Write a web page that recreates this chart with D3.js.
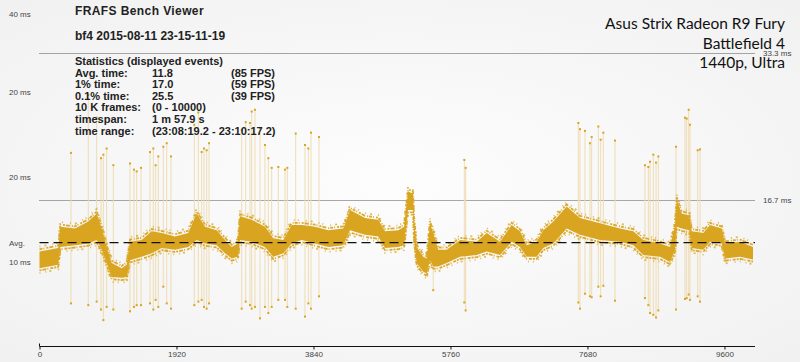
<!DOCTYPE html>
<html>
<head>
<meta charset="utf-8">
<script src="https://cdn.jsdelivr.net/npm/d3@7"></script>
<style>
  body { margin: 0; background: #f7f7f7; }
  svg { display: block; }
  .ylab, .xlab, .ref { font-family: "Liberation Sans", Arial, sans-serif; font-size: 8px; fill: #444; }
  .head { font-family: "Liberation Sans", Arial, sans-serif; font-size: 11px; font-weight: bold; fill: #222; }
  .title { font-size: 12px; }
  .gpu { font-family: Lato, "Open Sans", sans-serif; font-size: 15.5px; fill: #111; }
</style>
</head>
<body>
<svg width="800" height="362"></svg>
<script>
const w = 800, h = 362;

// band of frame times (upper / lower edge of the dense cloud), ms
const bandFrames = [0,263,292,498,684,802,872,942,1012,1152,1222,1268,1432,1573,1713,1899,2085,2203,2320,2484,
  2600,2694,2778,2810,2974,3160,3277,3417,3535,3675,3861,4048,4258,4352,4562,4748,4842,5029,5109,5165,
  5235,5250,5287,5379,5427,5473,5519,5589,5707,5894,6128,6268,6454,6618,6734,6828,6968,7061,7201,7389,
  7575,7856,8136,8322,8463,8697,8837,8907,8931,9001,9107,9141,9303,9397,9561,9608,9818,10000];
const bandHi = [10.8,11.2,13.6,13.4,14.2,15.1,13.4,11.3,9.5,8.9,9.3,11.9,12.1,13.1,12.9,12.5,12.9,15.1,13.6,13.2,
  12.1,11.3,11.7,14.8,14.4,13.6,12.3,12.1,13.8,13.8,13.6,13.2,13.4,15.5,14.6,14.4,13.1,13.2,13.6,17.6,
  17.4,14.4,11.3,10.2,10.0,14.0,12.9,11.0,11.0,12.1,11.9,12.9,11.9,13.8,13.1,11.5,11.9,13.2,14.2,15.9,
  14.6,14.0,13.4,13.1,12.1,11.7,11.3,13.8,16.7,15.1,14.9,13.1,12.9,13.8,13.4,11.7,11.9,11.3];
const bandLo = [8.9,9.3,11.3,11.5,11.7,12.1,11.0,9.5,7.9,7.8,7.9,9.8,10.2,10.6,11.2,11.0,11.3,12.1,11.7,11.5,
  10.6,10.0,10.2,12.1,11.9,11.3,10.2,10.6,11.7,12.1,11.7,11.3,11.5,13.2,12.7,12.5,11.2,11.3,11.5,15.5,
  15.5,12.1,9.5,8.5,8.3,9.8,9.1,9.1,9.5,10.2,10.4,10.8,10.4,11.9,11.3,10.2,10.2,11.2,11.7,13.4,
  12.7,12.1,11.9,11.5,10.4,10.2,9.6,11.0,13.6,13.4,13.2,11.2,11.0,11.9,11.7,10.0,10.2,9.9];

// stutter spikes: frame, high value, low value (ms)
const spikeFrames = [441,684,801,862,895,941,1035,1268,1324,1362,1423,1549,1595,1628,1665,1735,1783,1843,
  2170,2226,2273,2306,2343,2376,2834,2890,2950,2974,3020,3090,3160,3207,3254,3347,3441,3473,3591,3721,3768,3805,3917,
  5519,5954,5973,7552,7575,7645,7715,7739,7832,7865,7902,8066,8486,8533,8557,8603,8641,8673,8921,
  9047,9071,9099,9117,9225,9257];
const spikeHi = [22.0,28.6,26.0,21.4,21.8,22.5,20.6,20.8,20.1,19.9,20.3,22.1,22.5,20.6,21.6,22.7,23.1,21.6,
  25.2,26.6,22.1,22.5,22.3,23.1,24.6,25.5,25.4,26.7,26.9,24.8,22.9,21.4,20.3,20.4,20.1,20.3,24.2,22.9,22.5,24.3,23.8,
  11.0,21.2,20.3,25.4,24.7,24.5,23.1,23.8,25.0,23.5,24.3,23.4,20.6,20.4,21.0,21.8,20.9,21.6,22.7,
  26.0,25.9,26.9,25.2,22.3,22.4];
const spikeLo = [4.9,4.7,5.1,4.2,3.0,4.5,4.2,4.0,4.5,4.7,4.7,4.9,4.2,5.3,4.5,6.8,4.9,4.3,
  4.7,5.1,5.3,4.5,4.3,4.9,4.3,5.1,4.7,4.3,4.5,3.2,4.5,3.8,4.5,5.3,5.3,4.5,4.3,3.4,4.9,4.3,5.7,
  6.4,5.0,4.1,5.0,4.3,6.0,5.7,5.6,6.8,5.7,6.9,5.2,5.5,4.7,3.8,3.6,3.3,4.1,4.2,
  5.4,5.5,5.9,5.3,5.7,5.1];

const xTicks = [0,1920,3840,5760,7680,9600];
const yTickVals = [40,30,20,10];
const yTickText = ["40 ms","20 ms","20 ms","10 ms"];
const refVals = [33.3,16.7];
const refText = ["33.3 ms","16.7 ms"];
const avgTime = 11.8;

const titleLines = ["FRAFS Bench Viewer", "bf4 2015-08-11 23-15-11-19"];
const statLabels = ["Avg. time:","1% time:","0.1% time:","10 K frames:","timespan:","time range:"];
const statValues = ["11.8","17.0","25.5","(0 - 10000)","1 m 57.9 s","(23:08:19.2 - 23:10:17.2)"];
const statFps = ["(85 FPS)","(59 FPS)","(39 FPS)","","",""];
const gpuLines = ["Asus Strix Radeon R9 Fury","Battlefield 4","1440p, Ultra"];

const scaleX = d3.scaleLinear().domain([0,10000]).range([39.5,753]);
const scaleY = d3.scaleLinear().domain([0,40]).range([346.5,-5.5]);
// the viewer puts its ms labels on a slightly different spacing than the lines
const labelY = d3.scaleLinear().domain([10,30]).range([265,95]);

const gold = "#d9a521";
const svg = d3.select("svg");

const defs = svg.append("defs");
const grad = defs.append("radialGradient").attr("id","bg").attr("cx","50%").attr("cy","50%").attr("r","70%");
grad.append("stop").attr("offset","0%").attr("stop-color","#fdfdfd");
grad.append("stop").attr("offset","100%").attr("stop-color","#f1f1f1");
svg.append("rect").attr("width",w).attr("height",h).attr("fill","url(#bg)");

const band = bandFrames.map((f,i) => ({f: f, hi: bandHi[i], lo: bandLo[i]}));
const spikes = spikeFrames.map((f,i) => ({f: f, hi: spikeHi[i], lo: spikeLo[i]}));

drawGuides();
draw();
drawAxes();
drawText();

function drawGuides() {
    svg.selectAll("line.refline")
        .data(refVals)
        .join("line").attr("class","refline")
        .attr("x1", scaleX(0)).attr("x2", 755)
        .attr("y1", d => Math.round(scaleY(d)) + 0.5)
        .attr("y2", d => Math.round(scaleY(d)) + 0.5)
        .attr("stroke","#555").attr("stroke-width",1)
        .attr("stroke-dasharray","1 1");
    svg.selectAll("text.ref")
        .data(refVals)
        .join("text").attr("class","ref")
        .attr("x", 763)
        .attr("y", d => scaleY(d) + 3)
        .text((d,i) => refText[i]);
}

function draw() {
    svg.append("g").selectAll("line")
        .data(spikes)
        .join("line")
        .attr("x1", d => scaleX(d.f)).attr("x2", d => scaleX(d.f))
        .attr("y1", d => scaleY(d.hi)).attr("y2", d => scaleY(d.lo))
        .attr("stroke","#eedcb4").attr("stroke-width",1);

    const core = d3.area()
        .x(d => scaleX(d.f))
        .y0(d => scaleY(d.lo))
        .y1(d => scaleY(d.hi));
    svg.append("path").datum(band).attr("d", core).attr("fill", gold);

    // ragged edges of the point cloud
    const edges = [
        {k: "hi", off: 0.25, dash: "3 1 1 2 2 1 4 2 1 1", op: 0.95},
        {k: "hi", off: 0.55, dash: "1 4 2 6 1 3 1 7", op: 0.75},
        {k: "lo", off: -0.25, dash: "2 1 4 1 1 2 3 1", op: 0.95},
        {k: "lo", off: -0.55, dash: "1 5 1 3 2 7 1 4", op: 0.75}
    ];
    edges.forEach(e => {
        const ln = d3.line().x(d => scaleX(d.f)).y(d => scaleY(d[e.k] + e.off));
        svg.append("path").datum(band).attr("d", ln)
            .attr("fill","none").attr("stroke", gold)
            .attr("stroke-width", 1.8).attr("stroke-dasharray", e.dash)
            .attr("opacity", e.op);
    });

    const dots = svg.append("g");
    ["hi","lo"].forEach(k => {
        dots.selectAll("rect." + k)
            .data(spikes)
            .join("rect").attr("class", k)
            .attr("x", d => scaleX(d.f) - 1)
            .attr("y", d => scaleY(d[k]) - 1)
            .attr("width", 2).attr("height", 2)
            .attr("fill", gold);
    });

    svg.append("line")
        .attr("x1", scaleX(0)).attr("x2", 755)
        .attr("y1", scaleY(avgTime)).attr("y2", scaleY(avgTime))
        .attr("stroke","#111").attr("stroke-width",1.3)
        .attr("stroke-dasharray","9 5");
}

function drawAxes() {
    const axisX = d3.axisBottom(scaleX)
        .tickValues(xTicks)
        .tickSize(3)
        .tickPadding(2)
        .tickFormat(d3.format("d"));
    const xG = svg.append("g").attr("class","x-axis")
        .attr("transform", `translate(${[0,346.5]})`)
        .call(axisX);
    xG.select(".domain").attr("d", `M${scaleX(0)},-3V0H755`).attr("stroke","#111");
    xG.selectAll(".tick line").attr("stroke","#111");
    xG.selectAll(".tick text").attr("class","xlab").attr("font-family",null).attr("font-size",null);

    svg.selectAll("text.ylab")
        .data(yTickVals)
        .join("text").attr("class","ylab")
        .attr("x", 9)
        .attr("y", d => Math.max(labelY(d), 17))
        .text((d,i) => yTickText[i]);
    svg.append("text").attr("class","ylab")
        .attr("x", 9).attr("y", scaleY(avgTime) + 3)
        .text("Avg.");
}

function drawText() {
    svg.selectAll("text.title")
        .data(titleLines)
        .join("text").attr("class","head title")
        .attr("x", 75)
        .attr("y", (d,i) => 14.5 + i*25)
        .attr("letter-spacing", (d,i) => i == 0 ? 0.4 : 0)
        .text(d => d);

    svg.append("text").attr("class","head")
        .attr("x", 75).attr("y", 64.5)
        .text("Statistics (displayed events)");

    const stats = svg.append("g").attr("transform", `translate(${[75, 76.5]})`);
    stats.selectAll("g.row")
        .data(statLabels)
        .join("g").attr("class","row")
        .each(function(d, i) {
            const row = d3.select(this);
            row.append("text").attr("class","head").attr("y", i*11.6).text(d);
            row.append("text").attr("class","head").attr("x", 77).attr("y", i*11.6).text(statValues[i]);
            row.append("text").attr("class","head").attr("x", 156).attr("y", i*11.6).text(statFps[i]);
        });

    svg.selectAll("text.gpu")
        .data(gpuLines)
        .join("text").attr("class","gpu")
        .attr("text-anchor","end")
        .attr("x", 785)
        .attr("y", (d,i) => 29 + i*19.5)
        .text(d => d);
}
</script>
</body>
</html>
